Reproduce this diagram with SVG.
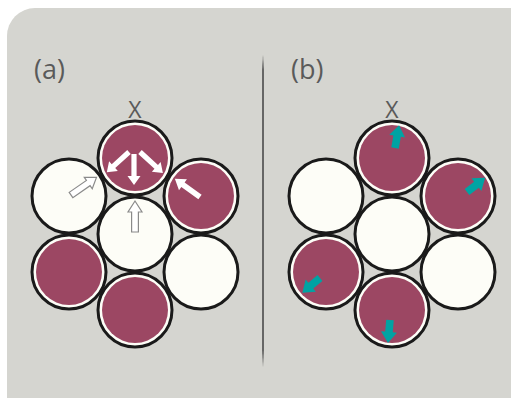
<svg xmlns="http://www.w3.org/2000/svg" width="511" height="398" viewBox="0 0 511 398">
  <style>
    .ring { stroke: #1a1a1a; stroke-width: 3; }
    .empty { fill: #fdfdf7; }
    .full { fill: #fdfdf7; }
    .core { fill: #9c4763; }
    .label { font-family: "Open Sans", "DejaVu Sans", sans-serif; fill: #5a5a5a; }
    .solid { fill: #ffffff; }
    .hollow { fill: #ffffff; stroke: #8a8a8a; stroke-width: 1.2; stroke-linejoin: miter; }
    .teal { fill: #00a3a3; }
  </style>
  <defs>
    <!-- occupied site: black rim, white gap, coloured core -->
    <g id="site-full">
      <circle r="37" class="ring full"/>
      <circle r="33" class="core"/>
    </g>
    <circle id="site-empty" r="37" class="ring empty"/>
    <!-- short cyan displacement arrow, pointing along +x -->
    <polygon id="teal-arrow" points="0,-3.8 12,-3.8 12,-8 23,0 12,8 12,3.8 0,3.8"/>
  </defs>

  <!-- panel -->
  <rect x="7" y="8" width="560" height="420" rx="28" ry="28" fill="#d5d5d0"/>

  <!-- divider -->
  <path d="M263,55 L263.8,70 L263.8,350 L263,367 L262.2,350 L262.2,70 Z" fill="#4a4a4a"/>

  <!-- panel labels -->
  <text class="label" x="34" y="79" font-size="27">(a)</text>
  <text class="label" x="291" y="79" font-size="27">(b)</text>
  <text class="label" x="135" y="118" font-size="23" text-anchor="middle">X</text>
  <text class="label" x="392" y="118" font-size="23" text-anchor="middle">X</text>

  <!-- (a) sites -->
  <g id="a-top"><use href="#site-full" x="135" y="158"/></g>
  <g id="a-upper-right"><use href="#site-full" x="201" y="196"/></g>
  <g id="a-lower-right"><use href="#site-empty" x="201" y="272"/></g>
  <g id="a-bottom"><use href="#site-full" x="135" y="310"/></g>
  <g id="a-lower-left"><use href="#site-full" x="69" y="272"/></g>
  <g id="a-upper-left"><use href="#site-empty" x="69" y="196"/></g>
  <g id="a-center"><use href="#site-empty" x="135" y="234"/></g>

  <!-- (b) sites -->
  <g id="b-top"><use href="#site-full" x="392" y="158"/></g>
  <g id="b-upper-right"><use href="#site-full" x="458" y="196"/></g>
  <g id="b-lower-right"><use href="#site-empty" x="458" y="272"/></g>
  <g id="b-bottom"><use href="#site-full" x="392" y="310"/></g>
  <g id="b-lower-left"><use href="#site-full" x="326" y="272"/></g>
  <g id="b-upper-left"><use href="#site-empty" x="326" y="196"/></g>
  <g id="b-center"><use href="#site-empty" x="392" y="234"/></g>

  <!-- arrows -->
  <g id="connectors">
    <!-- (a) solid white jump arrows -->
    <polygon class="solid" transform="translate(129,152) rotate(137.7)" points="0,-2.6 21,-2.6 21,-6.5 30,0 21,6.5 21,2.6 0,2.6"/>
    <polygon class="solid" transform="translate(134,154) rotate(90)" points="0,-2.6 22,-2.6 22,-6.5 31,0 22,6.5 22,2.6 0,2.6"/>
    <polygon class="solid" transform="translate(140,152) rotate(42.4)" points="0,-2.6 22,-2.6 22,-6.5 31,0 22,6.5 22,2.6 0,2.6"/>
    <polygon class="solid" transform="translate(200,197) rotate(-144.2)" points="0,-2.8 21,-2.8 21,-6.8 31,0 21,6.8 21,2.8 0,2.8"/>
    <!-- (a) hollow arrows -->
    <polygon class="hollow" transform="translate(71,195) rotate(-34.7)" points="0,-3.2 21,-3.2 21,-7 31,0 21,7 21,3.2 0,3.2"/>
    <polygon class="hollow" transform="translate(135,232) rotate(-90)" points="0,-3.4 20,-3.4 20,-7 31,0 20,7 20,3.4 0,3.4"/>
    <!-- (b) cyan arrows -->
    <use href="#teal-arrow" class="teal" transform="translate(395,148) rotate(-79.7)"/>
    <use href="#teal-arrow" class="teal" transform="translate(467,192) rotate(-37.9)"/>
    <use href="#teal-arrow" class="teal" transform="translate(320,278) rotate(140.2)"/>
    <use href="#teal-arrow" class="teal" transform="translate(390,320) rotate(95)"/>
  </g>
</svg>
